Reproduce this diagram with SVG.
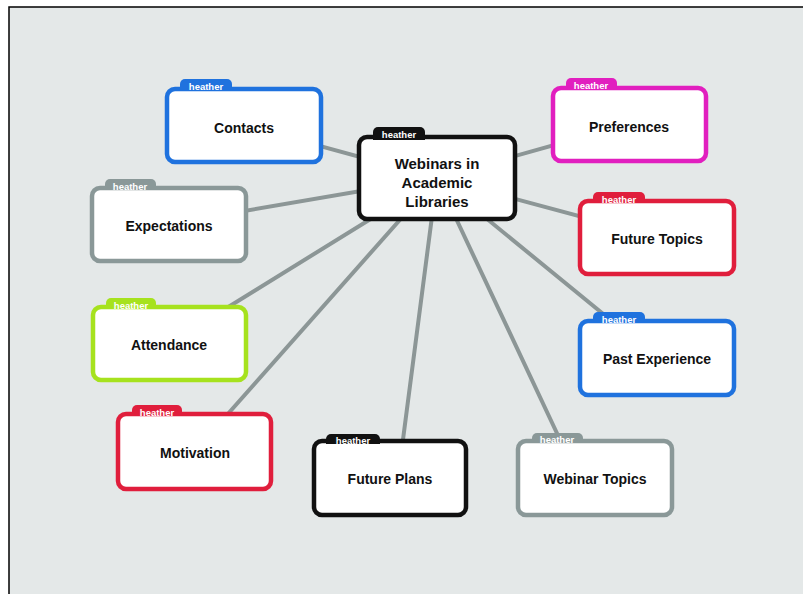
<svg xmlns="http://www.w3.org/2000/svg" width="803" height="594" viewBox="0 0 803 594">
<style>
.box{fill:#fff;stroke-width:4.5}
.lbl{font-family:"Liberation Sans",Arial,sans-serif;font-weight:bold;font-size:14px;fill:#111;text-anchor:middle;dominant-baseline:central}
.ctr{font-size:15px}
.tag{font-family:"Liberation Sans",Arial,sans-serif;font-weight:bold;font-size:9.5px;fill:#fff;text-anchor:middle;dominant-baseline:central}
.conn line{stroke:#8c9696;stroke-width:4;stroke-linecap:round}
</style>
<rect x="0" y="0" width="803" height="594" fill="#fff"/>
<rect x="9" y="7" width="800" height="592" fill="#e4e8e8" stroke="#000" stroke-width="1.5"/>
<g id="connectors" class="conn">
<line x1="437" y1="178" x2="243" y2="125"/>
<line x1="437" y1="178" x2="629" y2="124"/>
<line x1="437" y1="178" x2="168" y2="224"/>
<line x1="437" y1="178" x2="657" y2="237"/>
<line x1="437" y1="178" x2="170" y2="343"/>
<line x1="437" y1="178" x2="657" y2="358"/>
<line x1="437" y1="178" x2="195" y2="451"/>
<line x1="437" y1="178" x2="398" y2="478"/>
<line x1="437" y1="178" x2="578" y2="478"/>
</g>
<g id="center">
<rect class="box" x="359" y="137" width="156" height="82" rx="8" stroke="#111" stroke-width="5"/>
<path d="M373 140 V132 a5 5 0 0 1 5 -5 h42 a5 5 0 0 1 5 5 V140 Z" fill="#111"/>
<text class="tag" x="399" y="134">heather</text>
<text class="lbl ctr" x="437" y="163">Webinars in</text>
<text class="lbl ctr" x="437" y="182">Academic</text>
<text class="lbl ctr" x="437" y="201">Libraries</text>
</g>
<g id="contacts">
<rect class="box" x="167" y="89" width="154" height="73" rx="8" stroke="#1f72de"/>
<path d="M180 91 V84 a5 5 0 0 1 5 -5 h42 a5 5 0 0 1 5 5 V91 Z" fill="#1f72de"/>
<text class="tag" x="206" y="86">heather</text>
<text class="lbl" x="244" y="128">Contacts</text>
</g>
<g id="preferences">
<rect class="box" x="553" y="88" width="153" height="73" rx="8" stroke="#e11fbf"/>
<path d="M566 90 V83 a5 5 0 0 1 5 -5 h41 a5 5 0 0 1 5 5 V90 Z" fill="#e11fbf"/>
<text class="tag" x="591" y="85">heather</text>
<text class="lbl" x="629" y="127">Preferences</text>
</g>
<g id="expectations">
<rect class="box" x="92" y="188" width="154" height="73" rx="8" stroke="#8a9898"/>
<path d="M105 190 V184 a5 5 0 0 1 5 -5 h41 a5 5 0 0 1 5 5 V190 Z" fill="#8a9898"/>
<text class="tag" x="130" y="186">heather</text>
<text class="lbl" x="169" y="226">Expectations</text>
</g>
<g id="future-topics">
<rect class="box" x="580" y="201" width="154" height="73" rx="8" stroke="#e01e3c"/>
<path d="M593 203 V197 a5 5 0 0 1 5 -5 h42 a5 5 0 0 1 5 5 V203 Z" fill="#e01e3c"/>
<text class="tag" x="619" y="199">heather</text>
<text class="lbl" x="657" y="239">Future Topics</text>
</g>
<g id="attendance">
<rect class="box" x="93" y="307" width="153" height="73" rx="8" stroke="#a6e21e"/>
<path d="M106 309 V303 a5 5 0 0 1 5 -5 h40 a5 5 0 0 1 5 5 V309 Z" fill="#a6e21e"/>
<text class="tag" x="131" y="305">heather</text>
<text class="lbl" x="169" y="345">Attendance</text>
</g>
<g id="past-experience">
<rect class="box" x="580" y="321" width="154" height="74" rx="8" stroke="#1f72de"/>
<path d="M593 323 V317 a5 5 0 0 1 5 -5 h42 a5 5 0 0 1 5 5 V323 Z" fill="#1f72de"/>
<text class="tag" x="619" y="319">heather</text>
<text class="lbl" x="657" y="359">Past Experience</text>
</g>
<g id="motivation">
<rect class="box" x="118" y="414" width="153" height="75" rx="8" stroke="#e01e3c"/>
<path d="M132 416 V410 a5 5 0 0 1 5 -5 h40 a5 5 0 0 1 5 5 V416 Z" fill="#e01e3c"/>
<text class="tag" x="157" y="412">heather</text>
<text class="lbl" x="195" y="453">Motivation</text>
</g>
<g id="future-plans">
<rect class="box" x="314" y="441" width="152" height="74" rx="8" stroke="#111" stroke-width="5"/>
<path d="M326 444 V439 a5 5 0 0 1 5 -5 h44 a5 5 0 0 1 5 5 V444 Z" fill="#111"/>
<text class="tag" x="353" y="440">heather</text>
<text class="lbl" x="390" y="479">Future Plans</text>
</g>
<g id="webinar-topics">
<rect class="box" x="518" y="441" width="154" height="74" rx="8" stroke="#8a9898"/>
<path d="M532 443 V438 a5 5 0 0 1 5 -5 h41 a5 5 0 0 1 5 5 V443 Z" fill="#8a9898"/>
<text class="tag" x="557" y="439">heather</text>
<text class="lbl" x="595" y="479">Webinar Topics</text>
</g>
</svg>
